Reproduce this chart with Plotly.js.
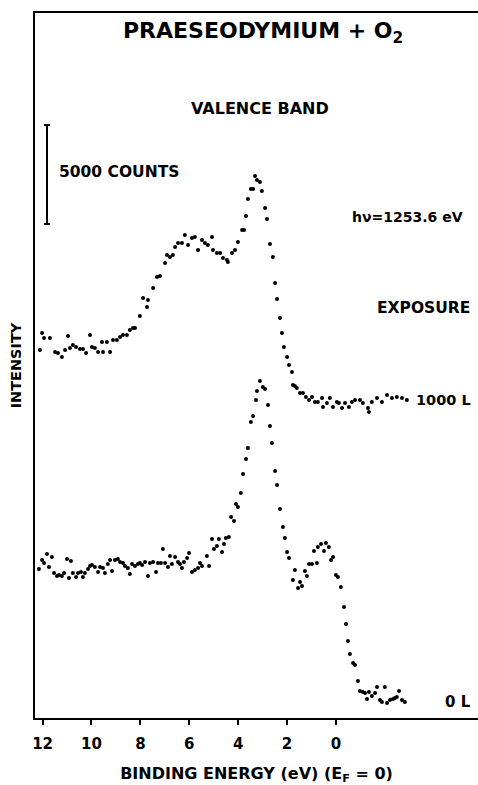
<!DOCTYPE html>
<html>
<head>
<meta charset="utf-8">
<script src="https://cdn.plot.ly/plotly-3.0.1.min.js"></script>
<style>html,body{margin:0;padding:0;background:#fff;}#chart{width:478px;height:785px;}</style>
</head>
<body>
<div id="chart"></div>
<script>
// Binding energy (eV) and intensity (arb. units) for 1000 L exposure
const energy1000 = [12.11,12.02,11.94,11.70,11.49,11.37,11.21,11.08,10.96,10.88,10.76,10.63,10.47,10.35,10.22,10.06,9.98,9.86,9.73,9.57,9.53,9.37,9.24,9.12,8.96,8.83,8.71,8.55,8.43,8.30,8.22,8.02,7.89,7.73,7.69,7.48,7.32,7.20,6.99,6.91,6.79,6.67,6.58,6.46,6.30,6.18,6.05,5.89,5.77,5.64,5.48,5.36,5.24,5.07,5.03,4.87,4.74,4.62,4.46,4.42,4.25,4.13,4.01,3.84,3.76,3.68,3.60,3.48,3.39,3.31,3.23,3.11,3.03,2.90,2.82,2.70,2.58,2.49,2.41,2.29,2.21,2.13,2.00,1.92,1.80,1.76,1.68,1.60,1.47,1.35,1.23,1.10,0.98,0.86,0.74,0.57,0.53,0.37,0.25,0.12,-0.04,-0.12,-0.25,-0.37,-0.53,-0.65,-0.78,-0.98,-1.10,-1.31,-1.35,-1.47,-1.68,-1.88,-2.09,-2.29,-2.49,-2.70,-2.90];
const intensity1000 = [368,385,380,380,366,365,361,368,382,370,373,371,369,369,365,383,371,370,366,376,366,376,366,378,378,381,383,383,388,390,390,402,420,411,418,430,441,442,455,463,461,463,471,475,475,483,473,480,481,468,478,475,473,481,468,465,465,460,458,456,465,468,476,488,488,502,519,529,529,542,538,536,527,510,499,474,461,435,419,400,385,371,361,353,346,333,332,330,325,325,321,318,321,316,316,320,311,315,320,311,316,315,310,315,311,316,318,318,315,310,306,316,320,316,323,320,321,320,318];

// Binding energy (eV) and intensity (arb. units) for 0 L exposure
const energy0 = [12.15,12.02,11.94,11.82,11.74,11.62,11.53,11.41,11.33,11.21,11.12,11.00,10.92,10.84,10.76,10.63,10.55,10.43,10.35,10.27,10.14,10.06,9.98,9.86,9.73,9.65,9.53,9.45,9.33,9.24,9.16,9.04,8.92,8.83,8.71,8.63,8.51,8.43,8.34,8.22,8.10,8.02,7.93,7.81,7.69,7.61,7.48,7.36,7.28,7.16,7.08,6.99,6.87,6.79,6.71,6.58,6.46,6.38,6.30,6.22,6.09,6.01,5.89,5.77,5.64,5.56,5.48,5.28,5.19,5.07,4.99,4.87,4.79,4.66,4.58,4.50,4.38,4.29,4.17,4.09,4.01,3.89,3.80,3.68,3.60,3.48,3.39,3.27,3.23,3.11,2.99,2.90,2.78,2.70,2.62,2.49,2.41,2.29,2.17,2.09,2.00,1.92,1.76,1.68,1.55,1.47,1.39,1.27,1.19,1.10,0.98,0.90,0.78,0.74,0.61,0.49,0.41,0.29,0.20,0.12,0.00,-0.08,-0.20,-0.33,-0.41,-0.49,-0.57,-0.70,-0.78,-0.90,-0.98,-1.10,-1.19,-1.27,-1.35,-1.47,-1.60,-1.68,-1.80,-1.88,-2.00,-2.09,-2.21,-2.33,-2.41,-2.49,-2.58,-2.70,-2.82];
const intensity0 = [149,158,155,164,151,161,145,142,143,142,145,159,140,157,145,141,145,146,141,145,149,152,153,151,146,151,150,145,154,158,147,158,159,156,155,152,150,144,154,152,154,155,153,156,142,155,156,146,155,155,169,155,151,162,154,161,156,154,150,156,160,165,146,148,150,155,152,162,152,179,169,172,179,166,174,180,181,201,197,214,211,225,244,259,270,296,302,318,327,337,331,329,313,292,275,247,233,209,191,180,166,160,138,148,130,136,132,147,142,154,154,167,155,171,174,167,175,171,158,161,143,141,131,111,94,77,64,55,53,37,27,26,25,19,26,22,25,31,18,16,31,15,18,19,20,21,27,18,16];

const tickVals = [12,10,8,6,4,2,0];
const tickText = ['12','10','8','6','4','2','0'];

const FONT = 'DejaVu Sans';
const marker = {color:'#000', size:4, symbol:'circle'};

const traces = [
  {x: energy1000, y: intensity1000, mode:'markers', type:'scatter', marker: marker, name:'1000 L', hoverinfo:'x+y'},
  {x: energy0, y: intensity0, mode:'markers', type:'scatter', marker: marker, name:'0 L', hoverinfo:'x+y'}
];

function ann(text, x, y, xanchor, size) {
  return {text: text, xref:'paper', yref:'paper', x:x, y:y, xanchor:xanchor, yanchor:'middle',
          showarrow:false, font:{family:FONT, size:size, color:'#000', weight:'bold'}};
}

const layout = {
  width: 478, height: 785,
  margin: {l:35, r:0, t:13, b:67, pad:0},
  paper_bgcolor:'#fff', plot_bgcolor:'#fff',
  showlegend:false,
  font:{family:FONT, color:'#000'},
  xaxis: {
    range:[12.31,-5.81], autorange:false,
    tickvals: tickVals, ticktext: tickText,
    ticks:'outside', ticklen:5, tickwidth:2, tickcolor:'#000',
    ticklabelstandoff:6,
    showline:true, linewidth:2, linecolor:'#000', mirror:true,
    showgrid:false, zeroline:false,
    tickfont:{family:FONT, size:15, color:'#000', weight:'bold'},
    title:{text:'BINDING ENERGY (eV) (E<sub>F</sub> = 0)', font:{family:FONT, size:16, color:'#000', weight:'bold'}, standoff:16},
    automargin:false
  },
  yaxis: {
    range:[0,705], autorange:false,
    showticklabels:false, ticks:'',
    showline:true, linewidth:2, linecolor:'#000', mirror:false,
    showgrid:false, zeroline:false,
    title:{text:'INTENSITY', font:{family:FONT, size:14.5, color:'#000', weight:'bold'}, standoff:8},
    automargin:false
  },
  shapes: [
    {type:'line', xref:'x', yref:'y', x0:11.82, x1:11.82, y0:494, y1:593, line:{color:'#000', width:2}},
    {type:'line', xref:'x', yref:'y', x0:11.94, x1:11.70, y0:593, y1:593, line:{color:'#000', width:2}},
    {type:'line', xref:'x', yref:'y', x0:11.94, x1:11.70, y0:494, y1:494, line:{color:'#000', width:2}}
  ],
  annotations: [
    ann('PRAESEODYMIUM + O<sub>2</sub>', 0.515, 0.973, 'center', 22),
    ann('VALENCE BAND', 0.508, 0.865, 'center', 16),
    ann('5000 COUNTS', 0.050, 0.774, 'left', 15.5),
    ann('hν=1253.6 eV', 0.971, 0.711, 'right', 14),
    ann('EXPOSURE', 0.986, 0.582, 'right', 15.5),
    ann('1000 L', 0.988, 0.451, 'right', 14.5),
    ann('0 L', 0.988, 0.0227, 'right', 15)
  ]
};

Plotly.newPlot('chart', traces, layout, {displayModeBar:false, staticPlot:true});
</script>
</body>
</html>
